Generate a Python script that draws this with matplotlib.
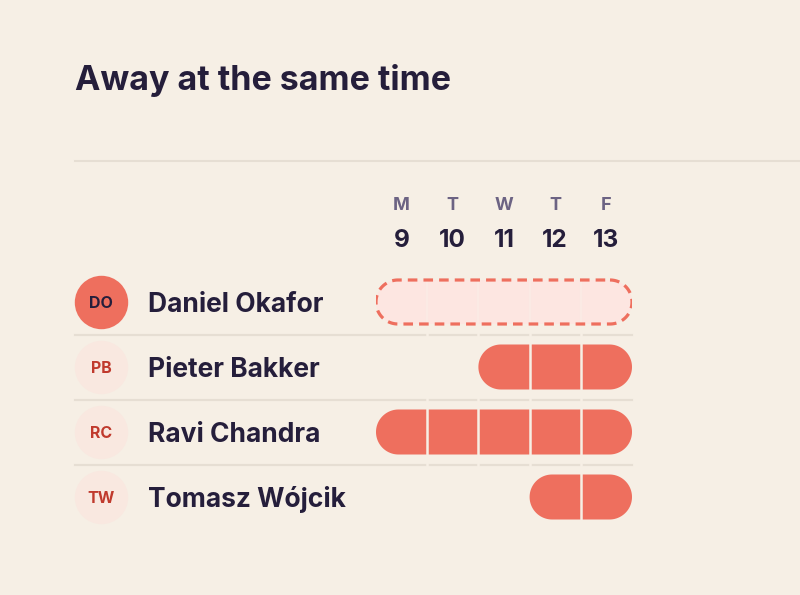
import matplotlib
matplotlib.use("Agg")
import numpy as np
import matplotlib.pyplot as plt
from matplotlib.patches import Polygon
from matplotlib.lines import Line2D

# ---- data ----
title = "Away at the same time"
day_letters = ["M", "T", "W", "T", "F"]
day_numbers = ["9", "10", "11", "12", "13"]
names = ["Daniel Okafor", "Pieter Bakker", "Ravi Chandra", "Tomasz Wójcik"]
initials = ["DO", "PB", "RC", "TW"]
away_start = [0, 2, 0, 3]      # first day index away
away_end = [5, 5, 5, 5]        # exclusive end day index
tentative = [True, False, False, False]
highlight = [True, False, False, False]

# ---- style ----
BG = "#F6EFE5"
CORAL = "#EE6F5E"
PINK = "#FDE6E1"
AVATAR_LIGHT = "#F9E8E0"
INIT_RED = "#C03A2D"
DARK = "#251E3B"
MUTED = "#6C6383"
RULE = "#E6DED3"
FONT = ["Inter", "DejaVu Sans"]

W, H = 800, 595
fig = plt.figure(figsize=(W / 100, H / 100), dpi=100, facecolor=BG)

# grid axes: x in day units, y in row units
x0, x1 = 376, 632
row_h = 65
y_top = 302 - row_h / 2
y_bot = y_top + row_h * len(names)
ax = fig.add_axes([x0 / W, 1 - y_bot / H, (x1 - x0) / W, (y_bot - y_top) / H])
ax.set_xlim(0, len(day_letters))
ax.set_ylim(len(names) - 0.5, -0.5)
ax.axis("off")
ax.patch.set_alpha(0)

px_x = len(day_letters) / (x1 - x0)   # data units per pixel in x
px_y = 1 / row_h                        # data units per pixel in y


def to_x(px):
    return (px - x0) * px_x


def to_y(py):
    return (py - 302) * px_y


def pill(xs, xe, yc, half_h_px):
    rx = half_h_px * px_x
    ry = half_h_px * px_y
    t1 = np.linspace(-np.pi / 2, np.pi / 2, 60)
    t2 = np.linspace(np.pi / 2, 3 * np.pi / 2, 60)
    right = np.column_stack([xe - rx + rx * np.cos(t1), yc + ry * np.sin(t1)])
    left = np.column_stack([xs + rx + rx * np.cos(t2), yc + ry * np.sin(t2)])
    return np.vstack([right, left])


# title and header rule
fig.text(75 / W, 1 - 90 / H, title, fontsize=24.5, fontweight="bold",
         color=DARK, family=FONT, va="baseline", ha="left")
fig.add_artist(Line2D([75 / W, 1], [1 - 161 / H, 1 - 161 / H],
                      transform=fig.transFigure, color=RULE, lw=1.5))

# day header
for i, (l, n) in enumerate(zip(day_letters, day_numbers)):
    ax.text(i + 0.5, to_y(209.5), l, ha="center", va="baseline", fontsize=13,
            fontweight="bold", color=MUTED, family=FONT, clip_on=False)
    ax.text(i + 0.5, to_y(246.7), n, ha="center", va="baseline", fontsize=17.5,
            fontweight="bold", color=DARK, family=FONT, clip_on=False)

# row separators
for r in range(len(names) - 1):
    ax.plot([to_x(75), len(day_letters)], [r + 0.5, r + 0.5], color=RULE,
            lw=1.6, clip_on=False, zorder=1)

for r, name in enumerate(names):
    # avatar
    ax.scatter([to_x(101)], [r], s=1480, color=CORAL if highlight[r] else AVATAR_LIGHT,
               clip_on=False, zorder=3, linewidths=0)
    ax.text(to_x(101), r + 5.7 * px_y, initials[r], ha="center", va="baseline",
            fontsize=11.5, fontweight="bold", color=DARK if highlight[r] else INIT_RED,
            family=FONT, zorder=4, clip_on=False)
    ax.text(to_x(148), r + 9.7 * px_y, name, ha="left", va="baseline", fontsize=19,
            fontweight="bold", color=DARK, family=FONT, clip_on=False)

    s, e = away_start[r], away_end[r]
    if tentative[r]:
        ax.add_patch(Polygon(pill(s, e, r, 22), closed=True, facecolor=PINK,
                             edgecolor="none", zorder=2))
        for b in range(s + 1, e):
            ax.plot([b, b], [r - 21 * px_y, r + 21 * px_y], color="#FBEAE4",
                    lw=1.5, zorder=2.5)
        ax.add_patch(Polygon(pill(s, e, r, 22), closed=True, facecolor="none",
                             edgecolor=CORAL, lw=2.3, linestyle=(0, (3.0, 1.9)),
                             zorder=3, joinstyle="round"))
    else:
        ax.add_patch(Polygon(pill(s, e, r, 22.5), closed=True, facecolor=CORAL,
                             edgecolor="none", zorder=2))
        for b in range(s + 1, e):
            ax.plot([b, b], [r - 23 * px_y, r + 23 * px_y], color=BG,
                    lw=1.8, zorder=2.5)

# column gaps across separators
for b in range(1, len(day_letters)):
    for r in range(len(names) - 1):
        ax.plot([b, b], [r + 0.5 - 0.03, r + 0.5 + 0.03], color=BG, lw=1.8, zorder=1.5)

fig.savefig("out.png", dpi=100, facecolor=BG)
